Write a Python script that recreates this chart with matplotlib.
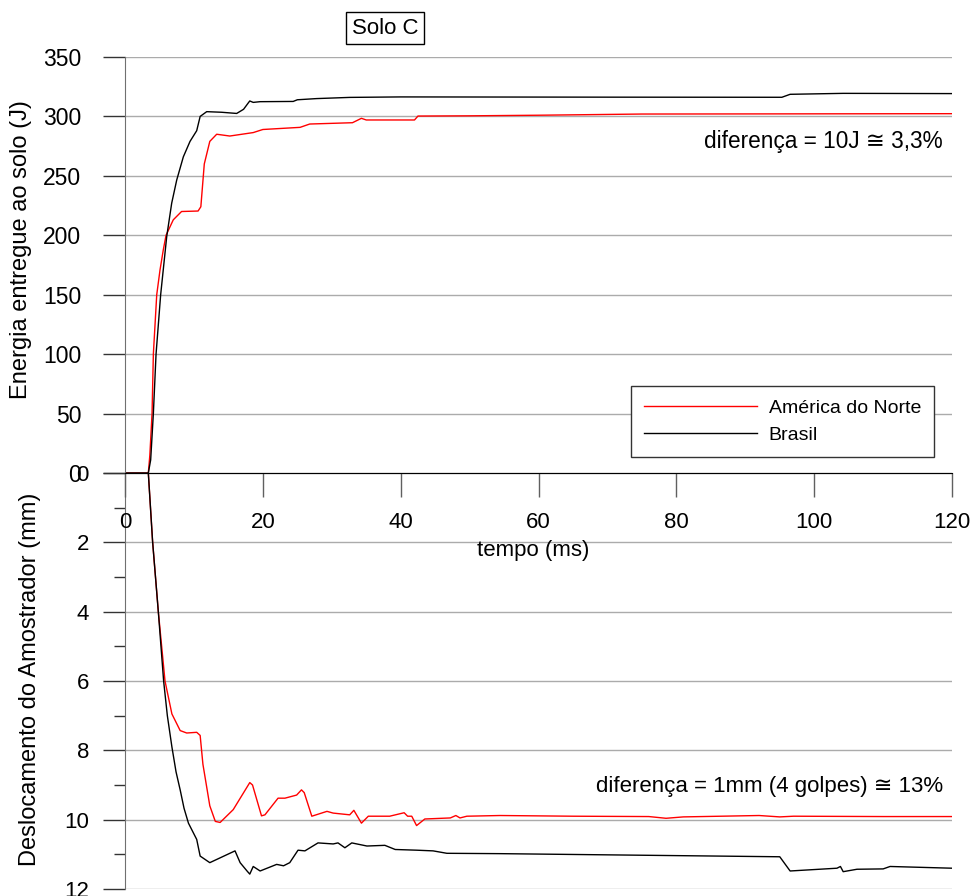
import matplotlib
matplotlib.use('Agg')
import matplotlib.pyplot as plt
import numpy as np

plt.rcParams['font.family'] = ['Liberation Sans', 'DejaVu Sans']

# energia entregue ao solo (J) x tempo (ms)
t_en_na = [0, 3.38, 3.6, 3.92, 4.11, 4.6, 5.08, 5.56, 5.95, 7.0, 8.2, 10.6, 11.0, 11.5, 12.3,
           13.3, 15.2, 18.6, 20.0, 25.4, 26.8, 33.0, 34.3, 35.0, 42.0, 42.5, 50, 60, 75, 120]
en_na = [0, 0, 15, 50, 100, 150, 171, 188, 200, 213, 220, 220.4, 224, 260, 279,
         285, 283.5, 286.4, 289, 290.8, 293.6, 294.7, 298.4, 297, 297, 300.3, 300.5, 301, 302, 302.3]

t_en_br = [0, 3.38, 3.72, 4.11, 4.5, 5.17, 6.05, 6.77, 7.5, 8.46, 9.43, 10.4, 10.9, 11.85, 14.0,
           16.2, 17.2, 17.9, 18.1, 18.6, 19.6, 24.4, 25.0, 27.8, 32.6, 40, 70, 95.3, 96.5, 104.2, 120]
en_br = [0, 0, 11, 50, 100, 150, 199, 227, 246.5, 266, 279, 288, 300, 304, 303.5,
         302.5, 306, 311.5, 313, 311.8, 312.4, 312.6, 314, 315, 316, 316.4, 316.2, 316.1, 318.6, 319.4, 319.2]

# deslocamento do amostrador (mm) x tempo (ms)
t_de_na = [0, 3.38, 4.0, 4.83, 5.8, 6.8, 8.0, 8.95, 10.4, 10.9, 11.3, 12.3, 13.1, 13.8, 15.7,
           18.1, 18.5, 19.8, 20.3, 22.2, 23.2, 24.9, 25.6, 26.0, 27.1, 29.3, 30.2, 32.6, 33.2,
           34.3, 35.3, 38.4, 40.5, 41.0, 41.6, 42.3, 43.5, 47.2, 48.0, 48.6, 49.6, 54.4, 65,
           76, 78.5, 81, 92, 95, 97, 110, 120]
de_na = [0, 0, 1.98, 4.0, 6.0, 6.95, 7.43, 7.5, 7.48, 7.57, 8.4, 9.6, 10.05, 10.08, 9.71,
         8.93, 9.0, 9.89, 9.86, 9.38, 9.38, 9.29, 9.14, 9.22, 9.9, 9.76, 9.81, 9.86, 9.73,
         10.1, 9.9, 9.9, 9.8, 9.9, 9.9, 10.17, 9.98, 9.95, 9.88, 9.95, 9.9, 9.88, 9.9,
         9.91, 9.96, 9.92, 9.88, 9.92, 9.9, 9.91, 9.91]

t_de_br = [0, 3.38, 4.0, 4.83, 5.6, 6.14, 6.8, 7.4, 8.0, 8.56, 9.2, 10.4, 10.9, 12.3, 15.96,
           16.7, 17.7, 18.1, 18.6, 19.6, 22.0, 23.0, 23.9, 25.1, 26.1, 28.0, 30.2, 30.9, 31.9,
           32.9, 35.1, 37.7, 39.2, 42.3, 44.7, 46.7, 54.4, 95.0, 96.5, 103.3, 103.8, 104.2,
           106.2, 110, 111, 120]
de_br = [0, 0, 1.98, 4.0, 6.0, 7.0, 7.9, 8.62, 9.14, 9.67, 10.1, 10.57, 11.05, 11.24, 10.9,
         11.24, 11.48, 11.57, 11.35, 11.48, 11.29, 11.33, 11.24, 10.88, 10.9, 10.67, 10.7, 10.67, 10.81,
         10.67, 10.76, 10.74, 10.86, 10.88, 10.9, 10.97, 10.98, 11.07, 11.48, 11.4, 11.35, 11.5,
         11.43, 11.42, 11.35, 11.4]

spine_col = '#707070'
grid_col = '#ababab'
tick_col = '#333333'

fig = plt.figure(figsize=(9.73, 8.96), dpi=100)
ax2 = fig.add_axes([0.1285, 0.0078, 0.8500, 0.4643])
ax1 = fig.add_axes([0.1285, 0.4721, 0.8500, 0.4643])
for ax in (ax1, ax2):
    ax.set_facecolor('none')
    ax.spines['top'].set_visible(False)
    ax.spines['right'].set_visible(False)
    ax.spines['left'].set_color(spine_col)
    ax.set_xlim(0, 120)
    ax.set_axisbelow(True)
    ax.yaxis.grid(True, color=grid_col, linewidth=1)
ax1.set_zorder(2)

# --- energia ---
ax1.plot(t_en_na, en_na, color='red', lw=1, label='América do Norte')
ax1.plot(t_en_br, en_br, color='black', lw=1, label='Brasil')
ax1.set_ylim(0, 350)
ax1.set_yticks(np.arange(0, 351, 50))
ax1.set_xticks(np.arange(0, 121, 20))
ax1.spines['bottom'].set_color('black')
ax1.tick_params(axis='y', direction='out', length=16, width=1, color=tick_col, pad=15.5, labelsize=16.5)
ax1.tick_params(axis='x', direction='out', length=17, width=1, color='#606060', pad=11, labelsize=16)
ax1.set_ylabel('Energia entregue ao solo (J)', fontsize=17)
ax1.yaxis.set_label_coords(-0.1128, 0.538)
ax1.set_xlabel('tempo (ms)', fontsize=16)
ax1.xaxis.set_label_coords(0.493, -0.161)
ax1.text(118.6, 278.5, 'diferença = 10J ≅ 3,3%', ha='right', va='center', fontsize=16.3)
leg = ax1.legend(loc='upper left', bbox_to_anchor=(0.612, 0.209), fontsize=14,
                 handlelength=5.8, handletextpad=0.6, labelspacing=0.5, borderpad=0.68,
                 fancybox=False, edgecolor='#333333', framealpha=1, borderaxespad=0)
leg.get_frame().set_linewidth(1)

# --- deslocamento ---
ax2.plot(t_de_na, de_na, color='red', lw=1)
ax2.plot(t_de_br, de_br, color='black', lw=1)
ax2.set_ylim(12, 0)
ax2.set_yticks(np.arange(0, 13, 2))
ax2.set_yticks(np.arange(1, 12, 2), minor=True)
ax2.spines['bottom'].set_visible(False)
ax2.set_xticks([])
ax2.tick_params(axis='y', which='major', direction='out', length=16, width=1, color=tick_col, pad=10, labelsize=16)
ax2.tick_params(axis='y', which='minor', direction='out', length=8, width=1, color=tick_col)
ax2.set_ylabel('Deslocamento do Amostrador (mm)', fontsize=17)
ax2.yaxis.set_label_coords(-0.102, 0.505)
ax2.text(118.7, 9.03, 'diferença = 1mm (4 golpes) ≅ 13%', ha='right', va='center', fontsize=16)

fig.text(385 / 973, 1 - 28 / 896, 'Solo C', ha='center', va='center', fontsize=16,
         bbox=dict(boxstyle='square,pad=0.25', fc='white', ec='black', lw=1))

fig.savefig('out.png', dpi=100)
